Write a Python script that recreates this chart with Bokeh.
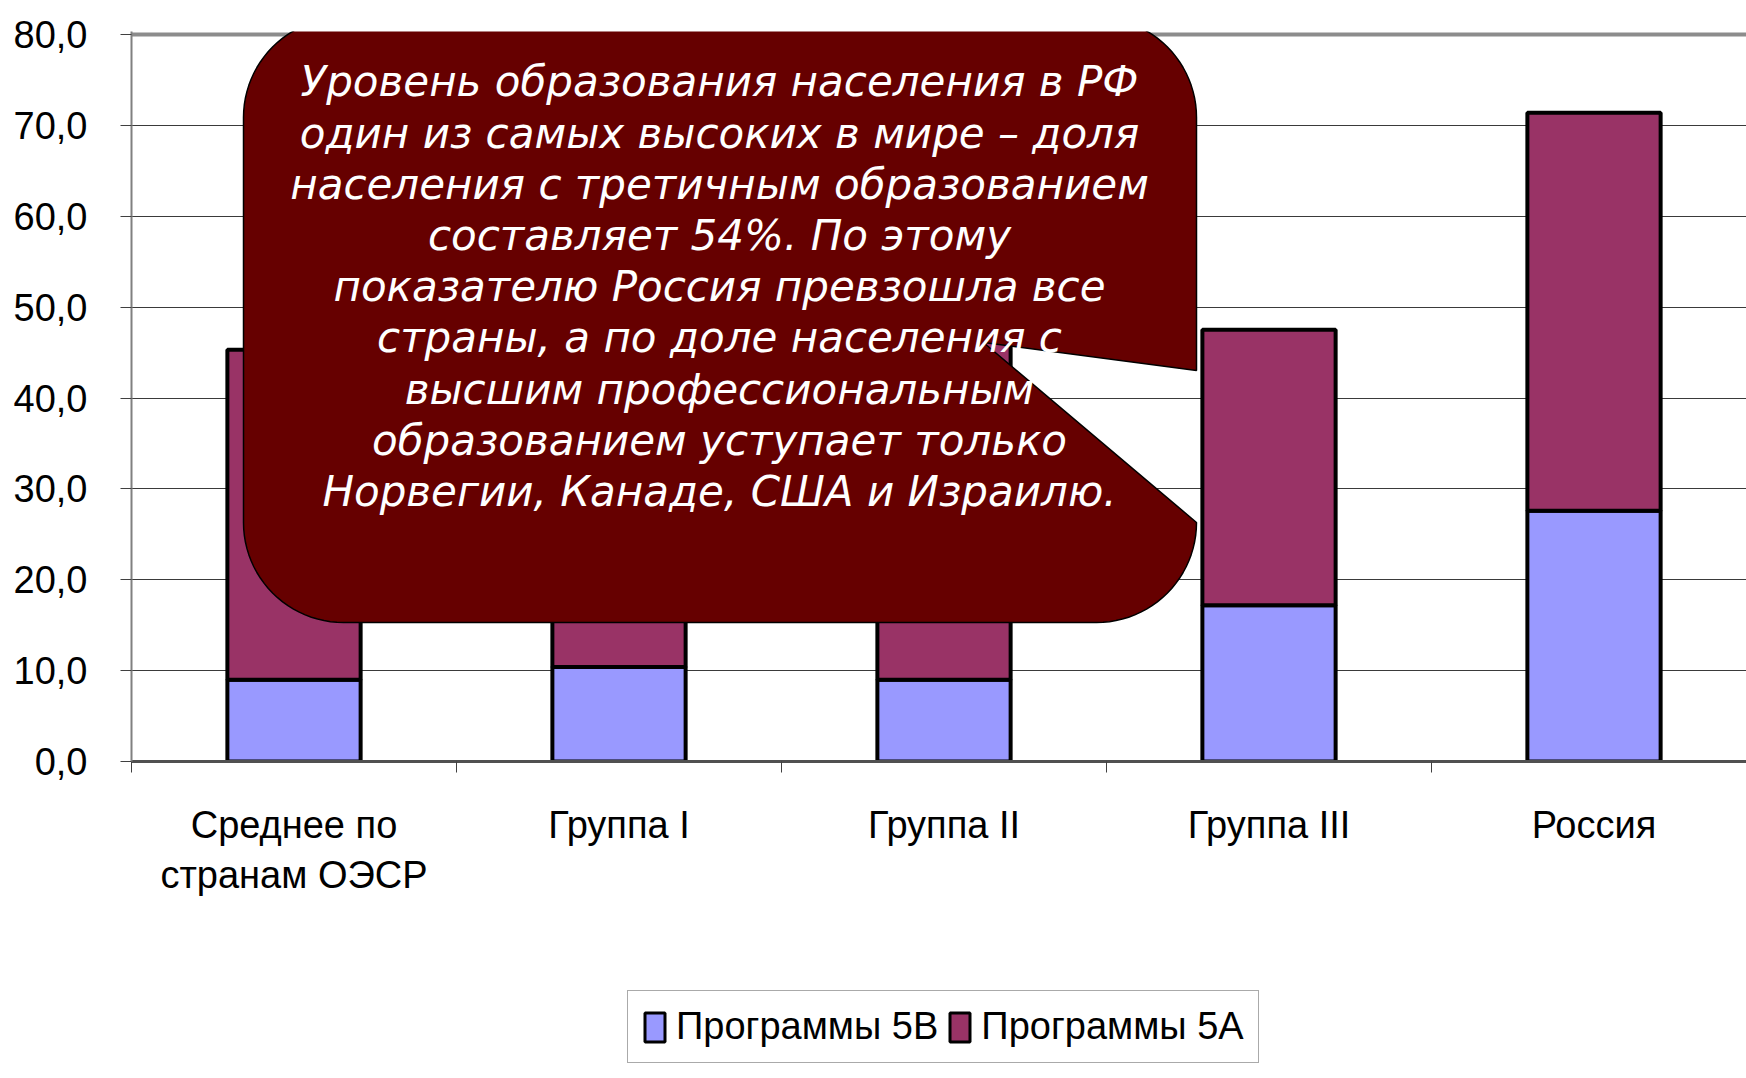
import math
from bokeh.plotting import figure
from bokeh.layouts import column
from bokeh.models import (FixedTicker, Span, Legend, LegendItem, ColumnDataSource, Range1d)
from bokeh.core.properties import value
from bokeh.embed import file_html
from bokeh.resources import INLINE

# ---------------- data ----------------
categories = ["Среднее по\nстранам ОЭСР", "Группа I", "Группа II", "Группа III", "Россия"]
prog_5b = [9.0, 10.4, 9.0, 17.2, 27.6]
prog_5a = [36.3, 28.0, 38.0, 30.3, 43.8]
y_ticks = [0, 10, 20, 30, 40, 50, 60, 70, 80]
y_tick_labels = ["0,0", "10,0", "20,0", "30,0", "40,0", "50,0", "60,0", "70,0", "80,0"]
series_names = ["Программы 5В", "Программы 5А"]
color_5b = "#9999FF"
color_5a = "#993366"
callout_lines = [
    "Уровень образования населения в РФ",
    "один из самых высоких в мире – доля",
    "населения с третичным образованием",
    "составляет 54%. По этому",
    "показателю Россия превзошла все",
    "страны, а по доле населения с",
    "высшим профессиональным",
    "образованием уступает только",
    "Норвегии, Канаде, США и Израилю.",
]

# ---------------- layout ----------------
W, H1, H2 = 1746, 985, 93
BL, BT = 131, 31
FRAME_BOTTOM = 761
BB = H1 - FRAME_BOTTOM
CAT_PX = 325.0
PX_PER_Y = 9.0875
frame_w = W - BL
frame_h = FRAME_BOTTOM - BT
x_end = frame_w / CAT_PX
y_end = frame_h / PX_PER_Y

FONT_AX = "Liberation Sans"
FS_AX = "38px"

p = figure(width=W, height=H1, output_backend="svg", toolbar_location=None,
           x_range=Range1d(0, x_end), y_range=Range1d(0, y_end),
           min_border_left=BL, min_border_top=BT, min_border_bottom=BB,
           min_border_right=0)
p.outline_line_color = None
p.background_fill_color = "white"
p.border_fill_color = "white"

n = len(categories)
xc = [i + 0.5 for i in range(n)]
tops_5a = [a + b for a, b in zip(prog_5b, prog_5a)]
src = ColumnDataSource(dict(x=xc, b5=prog_5b, t5a=tops_5a, zero=[0] * n))

p.vbar(x="x", bottom="zero", top="b5", width=0.41, source=src,
       fill_color=color_5b, line_color="black", line_width=4)
p.vbar(x="x", bottom="b5", top="t5a", width=0.41, source=src,
       fill_color=color_5a, line_color="black", line_width=4)

# grid
p.xgrid.visible = False
p.ygrid.ticker = FixedTicker(ticks=y_ticks[:-1])
p.ygrid.grid_line_color = "#3a3a3a"
p.ygrid.grid_line_width = 1.2
top_span = Span(location=y_ticks[-1], dimension="width", line_color="#8c8c8c",
                line_width=4, level="underlay")
p.add_layout(top_span)

# y axis
p.yaxis.ticker = FixedTicker(ticks=y_ticks)
p.yaxis.major_label_overrides = {t: l for t, l in zip(y_ticks, y_tick_labels)}
p.yaxis.major_label_text_font = FONT_AX
p.yaxis.major_label_text_font_size = FS_AX
p.yaxis.major_label_text_color = "black"
p.yaxis.axis_line_color = "#808080"
p.yaxis.axis_line_width = 2
p.yaxis.major_tick_line_color = "#404040"
p.yaxis.major_tick_out = 11
p.yaxis.major_tick_in = 0
p.yaxis.minor_tick_line_color = None
p.yaxis.major_label_standoff = 33

# x axis
p.xaxis.ticker = FixedTicker(ticks=xc, minor_ticks=list(range(n + 1)))
p.xaxis.major_label_overrides = {x: c for x, c in zip(xc, categories)}
p.xaxis.major_label_text_font = FONT_AX
p.xaxis.major_label_text_font_size = FS_AX
p.xaxis.major_label_text_color = "black"
p.xaxis.major_tick_line_color = None
p.xaxis.major_tick_out = 0
p.xaxis.major_tick_in = 0
p.xaxis.minor_tick_line_color = "#404040"
p.xaxis.minor_tick_out = 11
p.xaxis.minor_tick_in = 0
p.xaxis.axis_line_color = "#505050"
p.xaxis.axis_line_width = 3
p.xaxis.major_label_standoff = 31

# ---------------- callout (annotation shape, page px -> data) ----------------
def dx(px):
    return (px - BL) / CAT_PX

def dy(py):
    return (FRAME_BOTTOM - py) / PX_PER_Y

L, R, T, B, RAD = 243, 1196, 17, 622, 100
notch = [(R, 370), (983, 342), (R, B - RAD)]

def arc(cx, cy, a0, a1, steps=24):
    pts = []
    for k in range(steps + 1):
        a = math.radians(a0 + (a1 - a0) * k / steps)
        pts.append((cx + RAD * math.cos(a), cy + RAD * math.sin(a)))
    return pts

path = []
path += arc(R - RAD, T + RAD, -90, 0)
path += notch
path += arc(R - RAD, B - RAD, 0, 90)
path += arc(L + RAD, B - RAD, 90, 180)
path += arc(L + RAD, T + RAD, 180, 270)
p.patch([dx(a) for a, b in path], [dy(b) for a, b in path],
        fill_color="#660000", line_color="black", line_width=1.5)

TX = 719
line0, lstep = 81.3, 51.2
p.text(x=[dx(TX)] * len(callout_lines),
       y=[dy(line0 + i * lstep) for i in range(len(callout_lines))],
       text=callout_lines, text_align="center", text_baseline="middle",
       text_font=value("DejaVu Sans"), text_font_style="italic",
       text_font_size="42px", text_color="white")

# ---------------- legend strip ----------------
p2 = figure(width=W, height=H2, output_backend="svg", toolbar_location=None,
            x_axis_type=None, y_axis_type=None,
            min_border_left=0, min_border_right=0, min_border_top=0, min_border_bottom=0)
p2.outline_line_color = None
p2.xgrid.visible = False
p2.ygrid.visible = False
g1 = p2.vbar(x="x", bottom="zero", top="b5", width=0.41, source=src,
             fill_color=color_5b, line_color="black", line_width=3, visible=False)
g2 = p2.vbar(x="x", bottom="b5", top="t5a", width=0.41, source=src,
             fill_color=color_5a, line_color="black", line_width=3, visible=False)
legend = Legend(items=[LegendItem(label=series_names[0], renderers=[g1]),
                       LegendItem(label=series_names[1], renderers=[g2])],
                orientation="horizontal", location=(627 - BL, 15),
                label_text_font=FONT_AX, label_text_font_size=FS_AX,
                label_text_color="black",
                glyph_width=25, glyph_height=36, label_standoff=9,
                spacing=9, padding=14, margin=0,
                inactive_fill_alpha=0.0,
                border_line_color="#555555", border_line_width=1.5,
                background_fill_color="white", background_fill_alpha=1.0)
p2.add_layout(legend)

layout = column(p, p2, spacing=0)
open("out.html", "w").write(file_html(layout, INLINE))
